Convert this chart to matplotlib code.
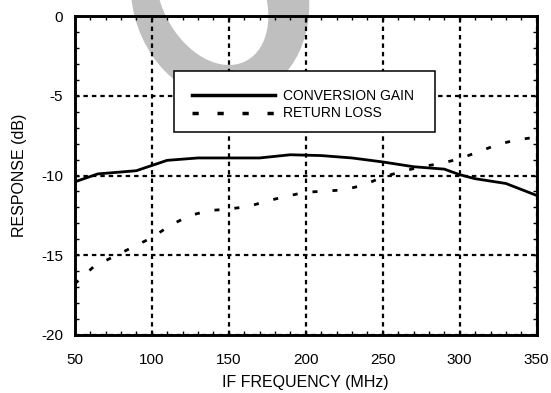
import matplotlib
matplotlib.use('Agg')
import matplotlib.pyplot as plt
from matplotlib.patches import Ellipse, Rectangle
from matplotlib.ticker import MultipleLocator
from matplotlib.lines import Line2D

# ---- data ----
gain_freq = [50, 65, 90, 110, 130, 170, 190, 210, 230, 250, 270, 290, 300, 310, 330, 350]
conversion_gain = [-10.4, -9.9, -9.7, -9.05, -8.9, -8.9, -8.7, -8.75, -8.9, -9.15,
                   -9.45, -9.6, -9.95, -10.2, -10.5, -11.25]

rl_freq = [50, 62.5, 75, 87.5, 100, 112.5, 125, 137.5, 150, 162.5, 175, 187.5, 200,
           212.5, 225, 237.5, 250, 262.5, 275, 287.5, 300, 312.5, 325, 337.5, 350]
return_loss = [-16.8, -15.7, -15.1, -14.5, -13.9, -13.1, -12.5, -12.2, -12.1, -11.95,
               -11.6, -11.3, -11.05, -10.98, -10.9, -10.6, -10.1, -9.75, -9.45, -9.25,
               -8.95, -8.5, -8.05, -7.75, -7.6]

x_ticks = [50, 100, 150, 200, 250, 300, 350]
y_ticks = [-20, -15, -10, -5, 0]
series_labels = ["CONVERSION GAIN", "RETURN LOSS"]
x_label = "IF FREQUENCY (MHz)"
y_label = "RESPONSE (dB)"

plt.rcParams['font.family'] = ['Liberation Sans', 'DejaVu Sans']
plt.rcParams['axes.unicode_minus'] = False

W, H = 551, 393
fig = plt.figure(figsize=(W / 100, H / 100), dpi=100)
fig.patch.set_facecolor('white')

# watermark ring (behind axes), sizes in inches
wm_color = '#bfbfbf'
outer = Ellipse((2.20, (H + 5) / 100), 1.76, 2.12, angle=15,
                transform=fig.dpi_scale_trans, facecolor=wm_color, edgecolor='none', zorder=-2)
inner = Ellipse((2.12, (H + 5) / 100), 1.014, 1.484, angle=27,
                transform=fig.dpi_scale_trans, facecolor='white', edgecolor='none', zorder=-1)
fig.patches.extend([outer, inner])

ax = fig.add_axes([74.7 / W, 1 - 335 / H, (536.7 - 74.7) / W, (335 - 16) / H])
ax.set_facecolor('none')

ax.set_xlim(50, 350)
ax.set_ylim(-20, 0)
ax.set_xticks(x_ticks)
ax.set_yticks(y_ticks)
ax.xaxis.set_minor_locator(MultipleLocator(10))
ax.yaxis.set_minor_locator(MultipleLocator(1))

ax.grid(True, which='major', color='black', linewidth=1.6, linestyle=(0, (2.0, 1.8)))

for s in ax.spines.values():
    s.set_linewidth(2.1)
    s.set_zorder(6)

ax.tick_params(which='both', direction='in', top=True, right=True,
               length=3, width=1.0, color='black', labelsize=11)
ax.tick_params(axis='x', which='major', pad=13)
ax.tick_params(axis='y', which='major', pad=8.5)

ax.plot(gain_freq, conversion_gain, color='black', linewidth=2.0,
        solid_joinstyle='round', zorder=3)
ax.plot(rl_freq, return_loss, color='black', linewidth=2.0,
        linestyle=(0, (1.8, 5.4)), dash_capstyle='butt', zorder=3)

ax.set_xlabel(x_label, fontsize=11.5, va='center')
ax.xaxis.set_label_coords(0.5, (335 - 382) / 319)
ax.set_ylabel(y_label, fontsize=11.5, va='center', ha='center')
ax.yaxis.set_label_coords((20 - 74.7) / 462, 0.5)

# legend box
def ay(py):
    return (335 - py) / 319

bx0 = (174 - 74.7) / 462
bx1 = (435 - 74.7) / 462
ax.add_patch(Rectangle((bx0, ay(132)), bx1 - bx0, ay(71) - ay(132), transform=ax.transAxes,
                       facecolor='white', edgecolor='black', linewidth=1.1, zorder=5))
handles = [Line2D([], [], color='black', linewidth=2.5),
           Line2D([], [], color='black', linewidth=2.5, linestyle=(0, (1.8, 5.4)),
                  dash_capstyle='butt')]
leg = ax.legend(handles, series_labels, loc='upper left',
                bbox_to_anchor=((192 - 74.7) / 462, ay(88.5)),
                frameon=False, borderpad=0, borderaxespad=0, handlelength=6.0,
                handletextpad=0.55, labelspacing=0.28, fontsize=10)
leg.set_zorder(7)

fig.savefig('out.png', dpi=100)
